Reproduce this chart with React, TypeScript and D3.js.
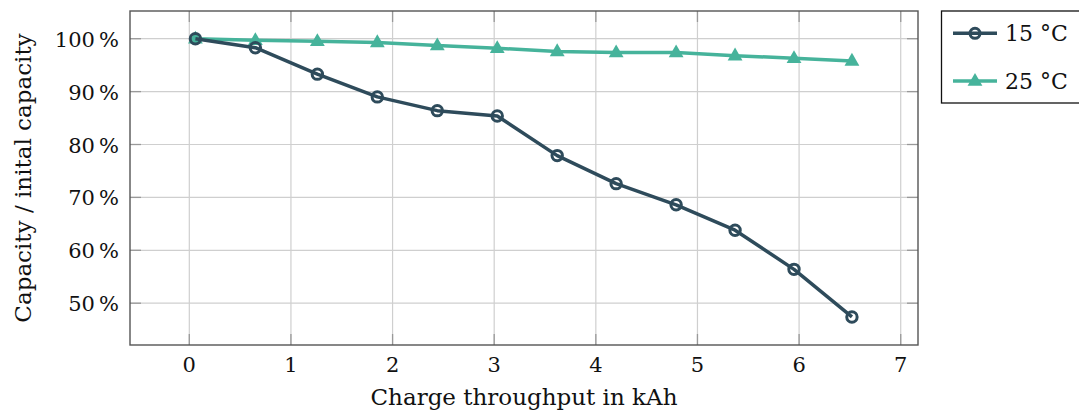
import React, { useRef, useEffect } from "react";
import * as d3 from "d3";

// charge throughput in kAh
const throughput = [0.06, 0.65, 1.26, 1.85, 2.44, 3.03, 3.62, 4.2, 4.79, 5.37, 5.95, 6.52];
// capacity relative to initial, in %
const cap15 = [100, 98.3, 93.3, 89.0, 86.4, 85.4, 77.9, 72.6, 68.6, 63.8, 56.4, 47.4];
const cap25 = [100, 99.7, 99.5, 99.3, 98.7, 98.2, 97.6, 97.4, 97.4, 96.8, 96.3, 95.8];

const xTicks = [0, 1, 2, 3, 4, 5, 6, 7];
const yTicks = [50, 60, 70, 80, 90, 100];

const seriesNames = ["15 °C", "25 °C"];
const colors = ["#2e4b5b", "#46b39b"];

const FONT = "'DejaVu Serif', serif";

const App = () => {
    const svgRef = useRef<SVGSVGElement>(null);

    useEffect(() => {
        const W = 1079;
        const H = 412;
        const left = 130;
        const right = 918;
        const top = 11;
        const bottom = 345;

        const svg = d3.select(svgRef.current).attr("width", W).attr("height", H);
        svg.selectAll("*").remove();

        const x = d3.scaleLinear().domain([-0.5835, 7.17]).range([left, right]);
        // 100 % at y=38.7, 10 % per 52.9 px
        const y = d3
            .scaleLinear()
            .domain([100, 50])
            .range([38.7, 38.7 + 5 * 52.9]);

        const g = svg.append("g");

        // grid
        g.selectAll(".gx")
            .data(xTicks)
            .enter()
            .append("line")
            .attr("x1", (d) => x(d))
            .attr("x2", (d) => x(d))
            .attr("y1", top)
            .attr("y2", bottom)
            .attr("stroke", "#cfcfcf")
            .attr("stroke-width", 1.2);
        g.selectAll(".gy")
            .data(yTicks)
            .enter()
            .append("line")
            .attr("x1", left)
            .attr("x2", right)
            .attr("y1", (d) => y(d))
            .attr("y2", (d) => y(d))
            .attr("stroke", "#cfcfcf")
            .attr("stroke-width", 1.2);

        // inner tick marks
        const tl = 11;
        xTicks.forEach((t) => {
            [[bottom, bottom - tl], [top, top + tl]].forEach(([a, b]) => {
                g.append("line")
                    .attr("x1", x(t)).attr("x2", x(t))
                    .attr("y1", a).attr("y2", b)
                    .attr("stroke", "#999").attr("stroke-width", 1.3);
            });
        });
        yTicks.forEach((t) => {
            [[left, left + tl], [right, right - tl]].forEach(([a, b]) => {
                g.append("line")
                    .attr("x1", a).attr("x2", b)
                    .attr("y1", y(t)).attr("y2", y(t))
                    .attr("stroke", "#999").attr("stroke-width", 1.3);
            });
        });

        // frame
        g.append("rect")
            .attr("x", left)
            .attr("y", top)
            .attr("width", right - left)
            .attr("height", bottom - top)
            .attr("fill", "none")
            .attr("stroke", "#555")
            .attr("stroke-width", 1.4);

        // tick labels
        g.selectAll(".xl")
            .data(xTicks)
            .enter()
            .append("text")
            .attr("x", (d) => x(d))
            .attr("y", 372)
            .attr("text-anchor", "middle")
            .style("font-family", FONT)
            .style("font-size", "21px")
            .attr("fill", "#111")
            .text((d) => d);
        g.selectAll(".yl")
            .data(yTicks)
            .enter()
            .append("text")
            .attr("x", 119)
            .attr("y", (d) => y(d) + 8)
            .attr("text-anchor", "end")
            .style("font-family", FONT)
            .style("font-size", "21px")
            .attr("fill", "#111")
            .text((d) => `${d}\u2009%`);

        // axis titles
        g.append("text")
            .attr("x", (left + right) / 2)
            .attr("y", 405)
            .attr("text-anchor", "middle")
            .style("font-family", FONT)
            .style("font-size", "23px")
            .attr("fill", "#111")
            .text("Charge throughput in kAh");
        g.append("text")
            .attr("transform", `translate(31, ${(top + bottom) / 2}) rotate(-90)`)
            .attr("text-anchor", "middle")
            .style("font-family", FONT)
            .style("font-size", "23px")
            .attr("fill", "#111")
            .text("Capacity / inital capacity");

        const line = d3
            .line<number>()
            .x((_, i) => x(throughput[i]))
            .y((d) => y(d));

        const tri = d3.symbol().type(d3.symbolTriangle).size(95);

        // 25 °C series
        g.append("path")
            .datum(cap25)
            .attr("d", line)
            .attr("fill", "none")
            .attr("stroke", colors[1])
            .attr("stroke-width", 3.5)
            .attr("stroke-linejoin", "round");
        g.selectAll(".m25")
            .data(cap25)
            .enter()
            .append("path")
            .attr("d", tri)
            .attr("transform", (d, i) => `translate(${x(throughput[i])}, ${y(d) + 0.5})`)
            .attr("fill", colors[1]);

        // 15 °C series
        g.append("path")
            .datum(cap15)
            .attr("d", line)
            .attr("fill", "none")
            .attr("stroke", colors[0])
            .attr("stroke-width", 3.5)
            .attr("stroke-linejoin", "round");
        g.selectAll(".m15")
            .data(cap15)
            .enter()
            .append("circle")
            .attr("cx", (_, i) => x(throughput[i]))
            .attr("cy", (d) => y(d))
            .attr("r", 5.2)
            .attr("fill", "none")
            .attr("stroke", colors[0])
            .attr("stroke-width", 3);

        // legend
        const lg = svg.append("g");
        lg.append("rect")
            .attr("x", 941.5)
            .attr("y", 11)
            .attr("width", 150)
            .attr("height", 92)
            .attr("fill", "white")
            .attr("stroke", "#111")
            .attr("stroke-width", 1.3);
        const rows = [33.3, 81];
        seriesNames.forEach((name, i) => {
            const ly = rows[i];
            lg.append("line")
                .attr("x1", 953).attr("x2", 997)
                .attr("y1", ly).attr("y2", ly)
                .attr("stroke", colors[i]).attr("stroke-width", 3.5);
            if (i === 0) {
                lg.append("circle")
                    .attr("cx", 975).attr("cy", ly).attr("r", 5)
                    .attr("fill", "none").attr("stroke", colors[0]).attr("stroke-width", 3);
            } else {
                lg.append("path")
                    .attr("d", tri)
                    .attr("transform", `translate(975, ${ly + 0.5})`)
                    .attr("fill", colors[1]);
            }
            lg.append("text")
                .attr("x", 1005)
                .attr("y", ly + 8)
                .style("font-family", FONT)
                .style("font-size", "22px")
                .attr("fill", "#111")
                .text(name);
        });
    }, []);

    return (
        <div style={{ position: "absolute", left: 0, top: 0 }}>
            <svg ref={svgRef} style={{ display: "block" }}></svg>
        </div>
    );
};

export default App;
